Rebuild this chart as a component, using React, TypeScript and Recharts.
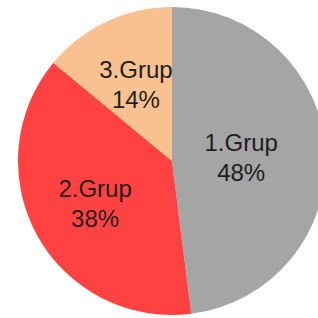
import React from "react";
import { PieChart, Pie, Cell } from "recharts";

const categories = ["1.Grup", "2.Grup", "3.Grup"];
const values = [48, 38, 14];
const colors = ["#a5a5a5", "#fe4242", "#f9c18f"];

const data = categories.map((name, i) => ({ name, value: values[i] }));

const RAD = Math.PI / 180;
const labelRadius = [0.45, 0.57, 0.55];

const renderLabel = (props: any) => {
  const { cx, cy, midAngle, outerRadius, index, name, percent } = props;
  const r = outerRadius * labelRadius[index];
  const x = cx + r * Math.cos(-midAngle * RAD);
  const y = cy + r * Math.sin(-midAngle * RAD);
  return (
    <text
      x={x}
      y={y}
      textAnchor="middle"
      fill="#1e1e1e"
      style={{ fontFamily: "'Liberation Sans', Arial, sans-serif", fontSize: 24 }}
    >
      <tspan x={x} dy={-6}>{name}</tspan>
      <tspan x={x} dy={30}>{`${Math.round(percent * 100)}%`}</tspan>
    </text>
  );
};

export default function App() {
  return (
    <div style={{ position: "absolute", left: 0, top: 0, width: 318, height: 318, background: "#fff" }}>
      <PieChart width={318} height={318} margin={{ top: 0, right: 0, bottom: 0, left: 0 }}>
        <Pie
          data={data}
          dataKey="value"
          nameKey="name"
          cx={172}
          cy={161}
          outerRadius={154}
          startAngle={90}
          endAngle={-270}
          stroke="none"
          label={renderLabel}
          labelLine={false}
          isAnimationActive={false}
        >
          {data.map((d, i) => (
            <Cell key={d.name} fill={colors[i]} />
          ))}
        </Pie>
      </PieChart>
    </div>
  );
}
